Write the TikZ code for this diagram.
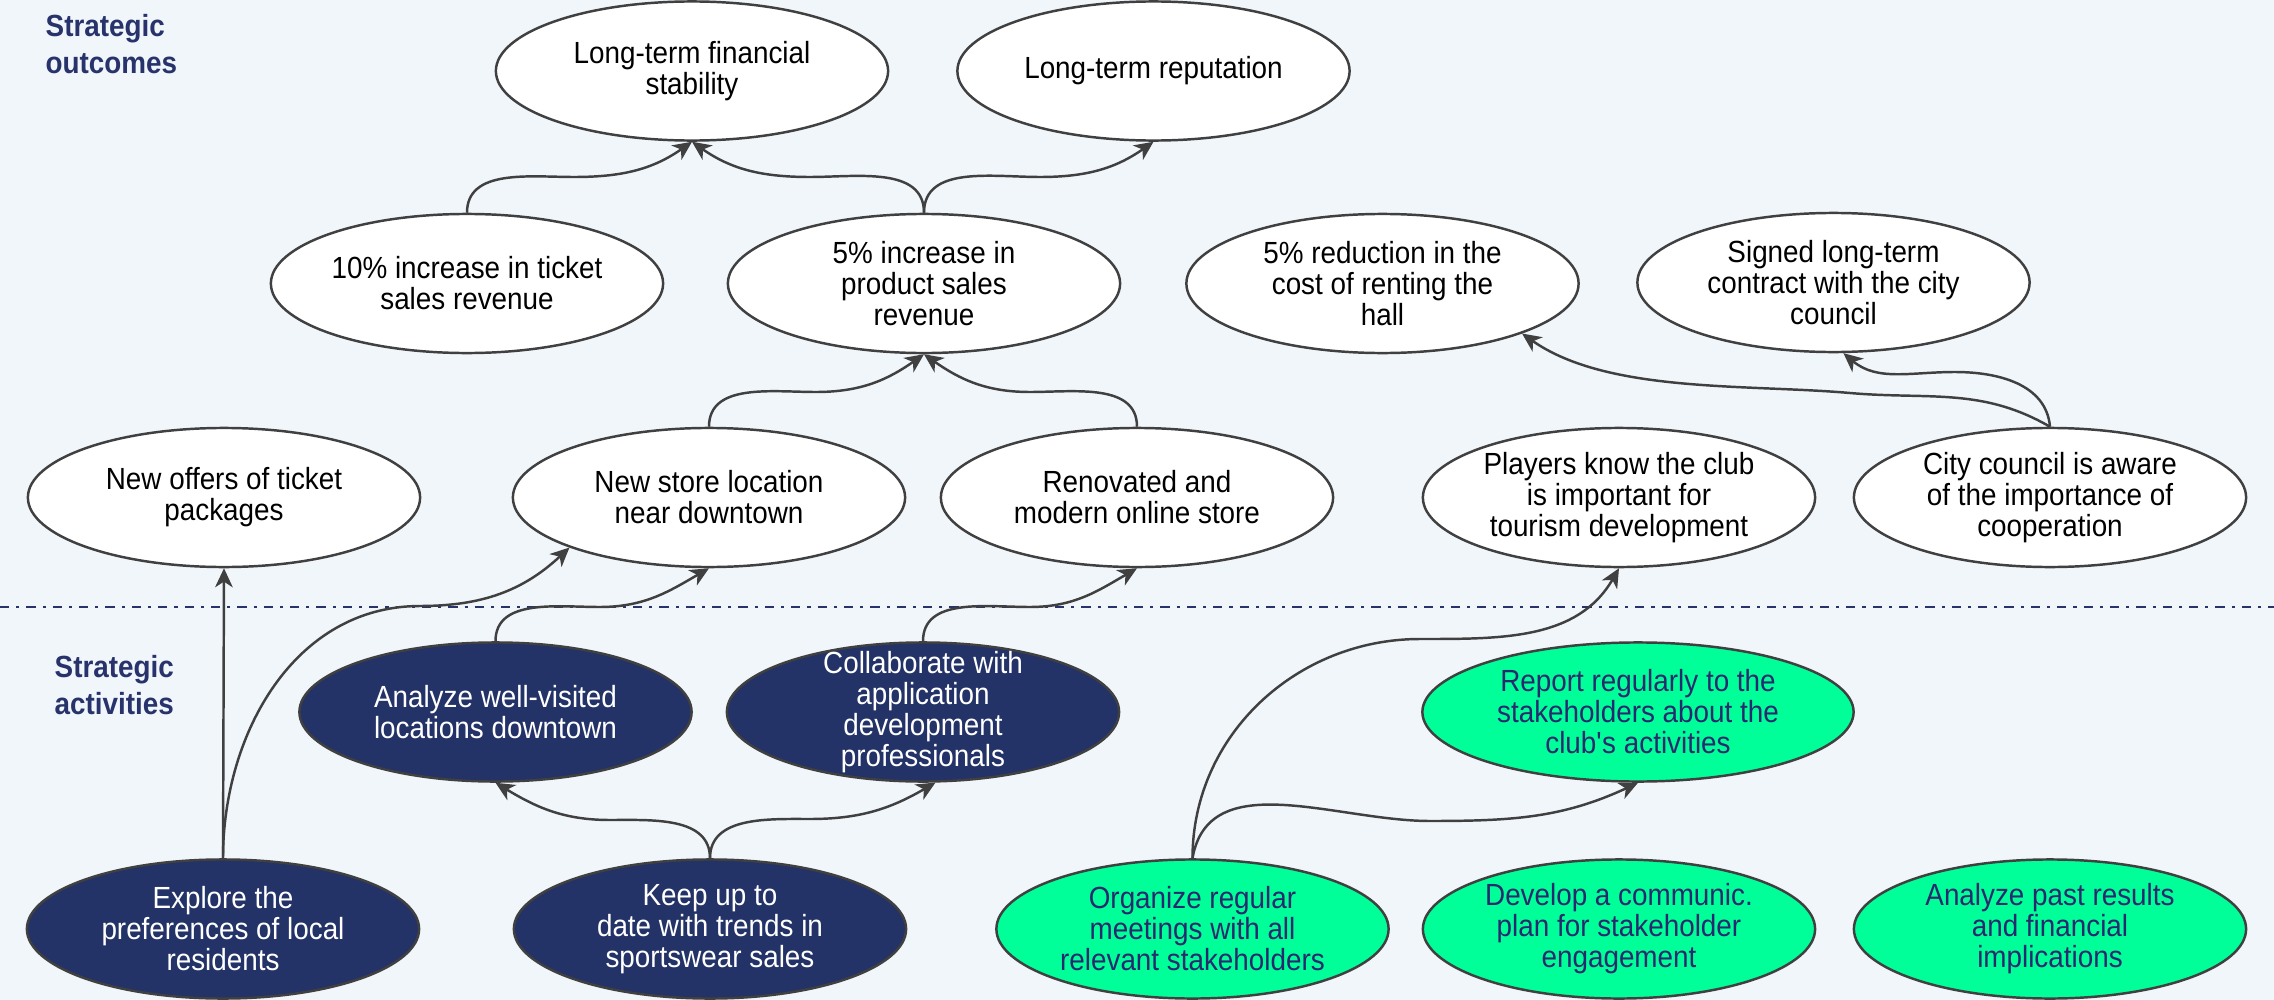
\documentclass[tikz,border=0pt]{standalone}
\usepackage{fontspec}
\setmainfont{Liberation Sans}[FakeStretch=0.91]
\usetikzlibrary{arrows.meta,shapes.geometric}

\definecolor{bgcol}{HTML}{F1F6FB}
\definecolor{edgegray}{HTML}{404040}
\definecolor{navyfill}{HTML}{233267}
\definecolor{labelnavy}{HTML}{27336A}
\definecolor{springgreen}{HTML}{00FF99}
\definecolor{greentext}{HTML}{29296E}

\begin{document}
\begin{tikzpicture}[x=0.01cm, y=0.01cm,
  box/.style={ellipse, draw=edgegray, line width=0.7pt,
    minimum width=3.92cm, minimum height=1.39cm,
    inner xsep=-30pt, inner ysep=-30pt, align=center,
    font=\fontsize{8.7}{8.8}\selectfont},
  outc/.style={box, fill=white, text=black},
  actn/.style={box, fill=navyfill, text=white},
  actg/.style={box, fill=springgreen, text=greentext},
  conn/.style={draw=edgegray, line width=0.7pt,
    -{Stealth[length=5.4pt, width=5pt, inset=1.6pt]}},
  sect/.style={font=\bfseries\fontsize{8.7}{10.6}\selectfont,
    text=labelnavy, align=left, inner sep=0pt, anchor=west},
  divider/.style={draw=labelnavy, line width=0.7pt,
    dash pattern=on 2.6pt off 2pt on 0.9pt off 2pt}
]
% canvas
\fill[bgcol] (0,0) rectangle (2274,-1000);
\useasboundingbox (0,0) rectangle (2274,-1000);

% section titles
\node[sect] (hdout) at (45,-44) {Strategic\\outcomes};
\node[sect] (hdact) at (54,-685) {Strategic\\activities};

% divider between outcomes and activities
\coordinate (divl) at (0,-607);
\coordinate (divr) at (2274,-607);
\draw[divider] (divl) -- (divr);

% strategic outcomes
\node[outc] (ltfs) at (692,-71) {Long-term financial\\stability};
\node[outc] (ltr) at (1153.5,-71) {Long-term reputation};

\node[outc] (t10) at (467,-283.5) {10\% increase in ticket\\sales revenue};
\node[outc] (p5) at (924,-283.5) {5\% increase in\\product sales\\revenue};
\node[outc] (r5) at (1382.5,-283.5) {5\% reduction in the\\cost of renting the\\hall};
\node[outc] (slt) at (1833.5,-282.5) {Signed long-term\\contract with the city\\council};

\node[outc] (nto) at (224,-497.5) {New offers of ticket\\packages};
\node[outc] (nsl) at (709,-497.5) {New store location\\near downtown};
\node[outc] (ros) at (1137,-497.5) {Renovated and\\modern online store};
\node[outc] (pkc) at (1619,-497.5) {Players know the club\\is important for\\tourism development};
\node[outc] (cca) at (2050,-497.5) {City council is aware\\of the importance of\\cooperation};

% strategic activities
\node[actn] (awv) at (495.5,-712) {Analyze well-visited\\locations downtown};
\node[actn] (cad) at (923,-712) {Collaborate with\\application\\development\\professionals};
\node[actg, minimum width=4.31cm] (rrs) at (1638,-712) {Report regularly to the\\stakeholders about the\\club\textquotesingle s activities};

\node[actn] (exp) at (223,-929) {Explore the\\preferences of local\\residents};
\node[actn] (kut) at (710,-929) {Keep up to\\date with trends in\\sportswear sales};
\node[actg] (org) at (1192.5,-929) {Organize regular\\meetings with all\\relevant stakeholders};
\node[actg] (dev) at (1619,-929) {Develop a communic.\\plan for stakeholder\\engagement};
\node[actg] (apr) at (2050,-929) {Analyze past results\\and financial\\implications};

% bend points of the curved connectors
\coordinate (m1) at (574,-177);
\coordinate (m2) at (810,-177);
\coordinate (m3) at (1040,-177);
\coordinate (m4) at (816,-392);
\coordinate (m5) at (1030,-392);
\coordinate (m6) at (1850,-393);
\coordinate (m7) at (1955,-372);
\coordinate (m9) at (420,-606);
\coordinate (m10) at (600,-607);
\coordinate (m11) at (610,-820);
\coordinate (m12) at (810,-819);
\coordinate (m13) at (1030,-607);
\coordinate (m14) at (1420,-639);
\coordinate (m15) at (1430,-821);

% outcome links
\draw[conn] (t10.north) to[out=90,in=180] (m1) to[out=0,in=-145] (ltfs.south);
\draw[conn] (p5.north) to[out=90,in=0] (m2) to[out=180,in=-35] (ltfs.south);
\draw[conn] (p5.north) to[out=90,in=180] (m3) to[out=0,in=-145] (ltr.south);
\draw[conn] (nsl.north) to[out=90,in=180] (m4) to[out=0,in=-145] (p5.south);
\draw[conn] (ros.north) to[out=90,in=0] (m5) to[out=180,in=-35] (p5.south);
\draw[conn] (cca.north) to[out=150,in=-5] (m6) to[out=175,in=-35,looseness=0.8] (r5.south east);
\draw[conn] (cca.north) to[out=95,in=0] (m7) to[out=180,in=-40] (slt.-82);

% activity links
\draw[conn] (exp.north) -- (nto.south);
\draw[conn] (exp.north) to[out=90,in=180] (m9) to[out=0,in=-137] (nsl.south west);
\draw[conn] (awv.north) to[out=90,in=180] (m10) to[out=0,in=-150] (nsl.south);
\draw[conn] (kut.north) to[out=90,in=0] (m11) to[out=180,in=-31] (awv.south);
\draw[conn] (kut.north) to[out=90,in=180] (m12) to[out=0,in=-150] (cad.-80);
\draw[conn] (cad.north) to[out=90,in=180] (m13) to[out=0,in=-150] (ros.south);
\draw[conn] (org.north) to[out=90,in=180] (m14) to[out=0,in=-120] (pkc.south);
\draw[conn] (org.north) to[out=80,in=180] (m15) to[out=0,in=-155] (rrs.south);
\end{tikzpicture}
\end{document}
